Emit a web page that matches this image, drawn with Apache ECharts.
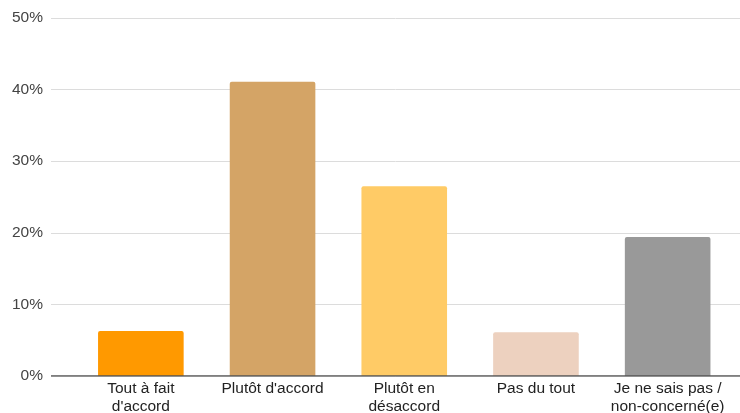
<!DOCTYPE html>
<html>
<head>
<meta charset="utf-8">
<script src="https://cdn.jsdelivr.net/npm/echarts@6/dist/echarts.min.js"></script>
<style>
  html, body { margin: 0; padding: 0; background: #fff; }
  #chart { width: 740px; height: 413px; }
</style>
</head>
<body>
<div id="chart"></div>
<script>
// categories and values (%)
var categories = ['Tout à fait\nd\'accord', 'Plutôt d\'accord', 'Plutôt en\ndésaccord', 'Pas du tout', 'Je ne sais pas /\nnon-concerné(e)']
var values = [6.3, 41.1, 26.5, 6.1, 19.4]
var barColors = ['#FF9900', '#D4A466', '#FFCB66', '#EDD1BF', '#999999']

var chart = echarts.init(document.getElementById('chart'))

var option = {
  animation: false,
  textStyle: { fontFamily: 'Liberation Sans, Arial, sans-serif' },
  grid: [
    // gridlines + y labels
    { left: 51, right: 0, top: 18, bottom: 37, outerBoundsMode: 'none' },
    // bars
    { left: 75, right: 6.5, top: 18, bottom: 37, outerBoundsMode: 'none' }
  ],
  xAxis: [
    {
      gridIndex: 0,
      type: 'value',
      min: 0,
      max: 1,
      show: true,
      axisLine: { show: false },
      axisTick: { show: false },
      axisLabel: { show: false },
      splitLine: { show: false }
    },
    {
      gridIndex: 1,
      type: 'category',
      data: categories,
      axisLine: { show: false },
      axisTick: { show: false },
      axisLabel: {
        color: '#222',
        fontSize: 15.5,
        lineHeight: 18,
        margin: 4,
        interval: 0
      }
    }
  ],
  yAxis: [
    {
      gridIndex: 0,
      type: 'value',
      min: 0,
      max: 50,
      interval: 10,
      axisLine: { show: false },
      axisTick: { show: false },
      axisLabel: {
        color: '#444',
        fontSize: 15.5,
        margin: 8,
        formatter: '{value}%'
      },
      splitLine: { lineStyle: { color: '#dcdcdc', width: 1 } }
    },
    {
      gridIndex: 1,
      type: 'value',
      min: 0,
      max: 50,
      interval: 10,
      show: false,
      splitLine: { show: false }
    }
  ],
  series: [
    {
      type: 'bar',
      xAxisIndex: 1,
      yAxisIndex: 1,
      data: values.map(function (v, i) {
        return { value: v, itemStyle: { color: barColors[i] } }
      }),
      barWidth: '65%',
      itemStyle: { borderRadius: [2, 2, 0, 0] },
      z: 2
    },
    {
      // baseline at 0%
      type: 'line',
      xAxisIndex: 0,
      yAxisIndex: 0,
      data: [[0, 0], [1, 0]],
      symbol: 'none',
      lineStyle: { color: '#555', width: 1.5 },
      z: 3,
      silent: true
    }
  ]
}

chart.setOption(option)
</script>
</body>
</html>
